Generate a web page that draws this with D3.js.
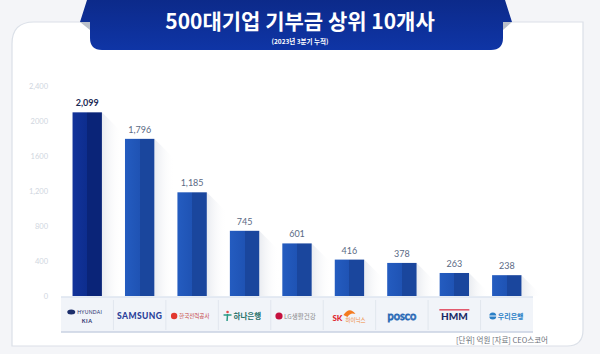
<!DOCTYPE html>
<html>
<head>
<meta charset="utf-8">
<script src="https://cdn.jsdelivr.net/npm/d3@7"></script>
<style>
  html, body { margin: 0; padding: 0; background: #f4f5f8; }
  svg { display: block; font-family: "Noto Sans CJK KR", "Noto Sans", sans-serif; }
</style>
</head>
<body>
<svg id="chart" width="600" height="354"></svg>
<script>
// data
const companies = ['현대자동차·기아', '삼성전자', '한국전력공사', '하나은행', 'LG생활건강', 'SK하이닉스', '포스코', 'HMM', '우리은행'];
const values = [2099, 1796, 1185, 745, 601, 416, 378, 263, 238];
const valueLabels = ['2,099', '1,796', '1,185', '745', '601', '416', '378', '263', '238'];
const tickValues = [0, 400, 800, 1200, 1600, 2000, 2400];
const tickLabels = ['0', '400', '800', '1,200', '1600', '2000', '2,400'];
const title = '500대기업 기부금 상위 10개사';
const subtitle = '(2023년 3분기 누적)';
const note = '[단위] 억원   [자료] CEO스코어';

const W = 600, H = 354;
const svg = d3.select('#chart');
const defs = svg.append('defs');

// card
svg.append('rect').attr('width', W).attr('height', H).attr('fill', '#f4f5f8');
svg.append('path')
    .attr('d', 'M12,44 Q12,22 34,22 L583,22 L583,330 Q583,346 567,346 L12,346 Z')
    .attr('fill', '#ffffff')
    .attr('stroke', '#dbe0e8')
    .attr('stroke-width', 1.2);

// scales
const x = d3.scaleBand().domain(companies).range([61, 533]).paddingInner(0.44).paddingOuter(0.22);
const y = d3.scaleLinear().domain([0, 2400]).range([296, 86]);

// y axis labels
const yAxis = d3.axisLeft(y).tickValues(tickValues).tickSize(0).tickPadding(0)
    .tickFormat((d, i) => tickLabels[i]);
const ya = svg.append('g').attr('transform', 'translate(48,0)').call(yAxis);
ya.select('.domain').remove();
ya.selectAll('text').attr('fill', '#d0d6e0').attr('font-size', 7.5).attr('font-family', 'Lato, sans-serif');

// gradients
function barGrad(id, c1, c2, c3) {
    const g = defs.append('linearGradient').attr('id', id).attr('x1', 0).attr('x2', 1).attr('y1', 0).attr('y2', 0);
    g.append('stop').attr('offset', '0%').attr('stop-color', c1);
    g.append('stop').attr('offset', '50%').attr('stop-color', c2);
    g.append('stop').attr('offset', '50%').attr('stop-color', c3);
    g.append('stop').attr('offset', '100%').attr('stop-color', c3);
}
barGrad('gFirst', '#12339a', '#0d2d8e', '#0a2478');
barGrad('gBar', '#245cc0', '#1f53b4', '#1a469d');
const sg = defs.append('linearGradient').attr('id', 'gShadow').attr('x1', 0).attr('x2', 1).attr('y1', 0).attr('y2', 0);
sg.append('stop').attr('offset', '0%').attr('stop-color', '#e4e7ed').attr('stop-opacity', 0.8);
sg.append('stop').attr('offset', '100%').attr('stop-color', '#ffffff').attr('stop-opacity', 0);

// shadows
const bw = x.bandwidth();
svg.append('g').selectAll('path').data(companies).join('path')
    .attr('d', (d, i) => {
        const xr = x(d) + bw, top = y(values[i]), base = y(0), s = 20;
        return `M${xr},${top} L${xr + s},${top + s} L${xr + s},${base} L${xr},${base} Z`;
    })
    .attr('fill', 'url(#gShadow)');

// logo strip
const strip = svg.append('g');
strip.append('rect').attr('x', 61).attr('y', 297).attr('width', 472).attr('height', 35).attr('fill', '#f1f4f9');
strip.append('line').attr('x1', 61).attr('x2', 533).attr('y1', 297).attr('y2', 297).attr('stroke', '#dde4ef').attr('stroke-width', 1.5);
strip.append('line').attr('x1', 61).attr('x2', 533).attr('y1', 332).attr('y2', 332).attr('stroke', '#c8d2e2').attr('stroke-width', 1.5);
strip.selectAll('line.sep').data(companies.slice(1)).join('line').attr('class', 'sep')
    .attr('x1', d => x(d) - x.step() * x.paddingInner() / 2)
    .attr('x2', d => x(d) - x.step() * x.paddingInner() / 2)
    .attr('y1', 300).attr('y2', 330).attr('stroke', '#e1e6ee');

// bars
svg.append('g').selectAll('rect').data(companies).join('rect')
    .attr('x', d => x(d))
    .attr('y', (d, i) => y(values[i]))
    .attr('width', bw)
    .attr('height', (d, i) => y(0) - y(values[i]))
    .attr('fill', (d, i) => i === 0 ? 'url(#gFirst)' : 'url(#gBar)');

// value labels
svg.append('g').selectAll('text').data(companies).join('text')
    .attr('x', d => x(d) + bw / 2)
    .attr('y', (d, i) => y(values[i]) - 6)
    .attr('text-anchor', 'middle')
    .attr('font-family', 'Lato, sans-serif')
    .attr('font-size', 9)
    .attr('font-weight', (d, i) => i === 0 ? 700 : 400)
    .attr('fill', (d, i) => i === 0 ? '#1c2b55' : '#5a6a84')
    .text((d, i) => valueLabels[i]);

// logos (text approximations)
const cx = i => x(companies[i]) + bw / 2;
const ly = 317;
const lg = svg.append('g').attr('font-family', '"Noto Sans CJK KR", sans-serif');

// hyundai / kia
lg.append('ellipse').attr('cx', cx(0) - 16).attr('cy', ly - 5).attr('rx', 4).attr('ry', 2.5).attr('fill', '#1c2e6b');
lg.append('text').attr('x', cx(0) - 10).attr('y', ly - 3).attr('font-size', 5).attr('font-family', 'Lato, sans-serif')
    .attr('fill', '#1c2e6b').attr('letter-spacing', 0.3).text('HYUNDAI');
lg.append('text').attr('x', cx(0)).attr('y', ly + 6).attr('text-anchor', 'middle').attr('font-size', 5.5)
    .attr('font-weight', 700).attr('font-family', 'Lato, sans-serif').attr('fill', '#1c2e6b').attr('letter-spacing', 0.5).text('KIA');

// samsung
lg.append('text').attr('x', cx(1)).attr('y', ly + 2).attr('text-anchor', 'middle').attr('font-size', 8.5)
    .attr('font-weight', 900).attr('font-family', 'Lato, sans-serif').attr('fill', '#2a3f9a').attr('letter-spacing', 0.4).text('SAMSUNG');

// kepco
lg.append('circle').attr('cx', cx(2) - 18).attr('cy', ly - 1).attr('r', 3.2).attr('fill', '#e2382f');
lg.append('text').attr('x', cx(2) - 13).attr('y', ly + 1).attr('font-size', 5.5).attr('fill', '#c44040').text('한국전력공사');

// hana
lg.append('circle').attr('cx', cx(3) - 17).attr('cy', ly - 5).attr('r', 1.3).attr('fill', '#e34a4a');
lg.append('path').attr('d', `M${cx(3) - 21},${ly - 2} L${cx(3) - 13},${ly - 2} M${cx(3) - 17},${ly - 3} L${cx(3) - 17.5},${ly + 4}`)
    .attr('stroke', '#2a9a86').attr('stroke-width', 1.5).attr('fill', 'none');
lg.append('text').attr('x', cx(3) - 11).attr('y', ly + 2).attr('font-size', 7.5).attr('font-weight', 700).attr('fill', '#1d6f67').text('하나은행');

// lg
lg.append('circle').attr('cx', cx(4) - 18).attr('cy', ly - 1).attr('r', 3.6).attr('fill', '#c5103f');
lg.append('text').attr('x', cx(4) - 13).attr('y', ly + 1.5).attr('font-size', 6.5).attr('fill', '#8a8a8a').text('LG생활건강');

// sk hynix
lg.append('path').attr('d', `M${cx(5) - 6},${ly - 2} q6,-9 12,-1 q-5,-2 -8,3 z`).attr('fill', '#f47a20');
lg.append('text').attr('x', cx(5) - 17).attr('y', ly + 4).attr('font-size', 8).attr('font-weight', 900)
    .attr('font-family', 'Lato, sans-serif').attr('fill', '#e0262f').text('SK');
lg.append('text').attr('x', cx(5) - 4).attr('y', ly + 5).attr('font-size', 5.5).attr('fill', '#f08a3a').text('하이닉스');

// posco
lg.append('text').attr('x', cx(6)).attr('y', ly + 3).attr('text-anchor', 'middle').attr('font-size', 11)
    .attr('font-family', 'Lato, sans-serif').attr('font-weight', 400).attr('fill', 'none')
    .attr('stroke', '#2a69b5').attr('stroke-width', 0.9).text('posco');

// hmm
lg.append('rect').attr('x', cx(7) - 15).attr('y', ly - 8).attr('width', 30).attr('height', 1.6).attr('fill', '#e25a6e');
lg.append('text').attr('x', cx(7)).attr('y', ly + 3).attr('text-anchor', 'middle').attr('font-size', 10)
    .attr('font-family', 'Lato, sans-serif').attr('font-weight', 900).attr('fill', '#1c2a66').text('HMM');

// woori
lg.append('circle').attr('cx', cx(8) - 14).attr('cy', ly - 1).attr('r', 3.5).attr('fill', '#2a7fc6');
lg.append('rect').attr('x', cx(8) - 18).attr('y', ly - 1.5).attr('width', 8).attr('height', 1).attr('fill', '#f1f4f9');
lg.append('text').attr('x', cx(8) - 9).attr('y', ly + 1.5).attr('font-size', 7).attr('font-weight', 700).attr('fill', '#2a7fc6').text('우리은행');

// footer note
svg.append('text').attr('x', 548).attr('y', 343).attr('text-anchor', 'end').attr('font-size', 7.5)
    .attr('fill', '#6b6f78').text(note);

// title banner
const banner = svg.append('g');
const bg = defs.append('linearGradient').attr('id', 'gBanner').attr('x1', 0).attr('x2', 0).attr('y1', 0).attr('y2', 1);
bg.append('stop').attr('offset', '0%').attr('stop-color', '#0c2a8a');
bg.append('stop').attr('offset', '100%').attr('stop-color', '#0f35a6');
banner.append('path').attr('d', 'M80,22 L90,30 L90,22 Z').attr('fill', '#b9bfc9');
banner.append('path').attr('d', 'M512,22 L503,30 L503,22 Z').attr('fill', '#b9bfc9');
banner.append('path')
    .attr('d', 'M87,0 L505,0 L512,22 L503,22 L503,38 Q503,50 491,50 L102,50 Q90,50 90,38 L90,22 L80,22 Z')
    .attr('fill', 'url(#gBanner)');
banner.append('text').attr('x', 300).attr('y', 29).attr('text-anchor', 'middle').attr('font-size', 21)
    .attr('font-weight', 700).attr('fill', '#ffffff').text(title);
banner.append('text').attr('x', 300).attr('y', 44).attr('text-anchor', 'middle').attr('font-size', 6.5)
    .attr('font-weight', 700).attr('fill', '#ffffff').text(subtitle);
</script>
</body>
</html>
